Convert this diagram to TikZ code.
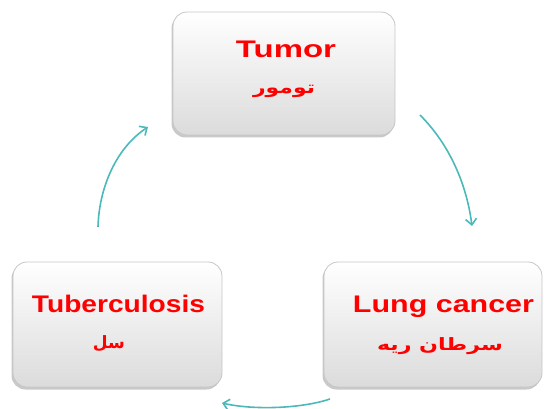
\documentclass[tikz,border=0pt]{standalone}
\usepackage{fontspec}
\usepackage{graphicx}
\setmainfont{Liberation Sans}
\newfontfamily\arabicfont[Script=Arabic]{DejaVu Sans}
\TeXXeTstate=1
\usetikzlibrary{arrows.meta,shadows}
\definecolor{arrowteal}{HTML}{4BB9B9}
\definecolor{txtred}{HTML}{FF0000}
\tikzset{
  box/.style={rounded corners=14pt, draw=gray!45, line width=0.8pt,
    top color=white, bottom color=gray!28,
    drop shadow={shadow xshift=-1.5pt, shadow yshift=-2.5pt, fill=gray!60, opacity=0.7}},
  entxt/.style={text=txtred, font=\fontsize{24}{28}\selectfont\bfseries, inner sep=0pt, anchor=base},
  artxt/.style={text=txtred, font=\fontsize{17}{20}\selectfont\arabicfont\bfseries, inner sep=0pt},
  cyc/.style={draw=arrowteal, line width=1.6pt, -{Straight Barb[length=6pt,width=11pt,line width=1.6pt]}}
}
\begin{document}
\begin{tikzpicture}[x=1pt,y=-1pt]
\useasboundingbox (0,0) rectangle (544,409);
% boxes
\node[box, minimum width=222pt, minimum height=123pt] (tumor) at (284,73.5) {};
\node[box, minimum width=209pt, minimum height=125pt] (tb) at (117.5,324.5) {};
\node[box, minimum width=218pt, minimum height=125pt] (lung) at (433,324.5) {};
% texts
\node[entxt] (tumorEn) at (286,58) {\resizebox{100pt}{\height}{Tumor}};
\node[artxt] (tumorAr) at (284,91) {\resizebox{62pt}{\height}{\beginR تومور\endR}};
\node[entxt] (tbEn) at (118.5,312) {\resizebox{173pt}{\height}{Tuberculosis}};
\node[artxt] (tbAr) at (109,344) {\resizebox{32pt}{\height}{\beginR سل\endR}};
\node[entxt] (lungEn) at (443.5,312) {\resizebox{181pt}{\height}{Lung cancer}};
\node[artxt] (lungAr) at (440,346) {\resizebox{126pt}{\height}{\beginR سرطان ریه\endR}};
% arrow end points
\coordinate (a1s) at (420,115);
\coordinate (a1e) at (472,226);
\coordinate (a2s) at (330,399);
\coordinate (a2e) at (222,403);
\coordinate (a3s) at (98,227);
\coordinate (a3e) at (148,127);
\draw[cyc] (a1s) .. controls (447,142) and (466,180) .. (a1e);
\draw[cyc] (a2s) .. controls (300,409) and (252,410) .. (a2e);
\draw[cyc] (a3s) .. controls (99,188) and (116,148) .. (a3e);
\end{tikzpicture}
\end{document}
